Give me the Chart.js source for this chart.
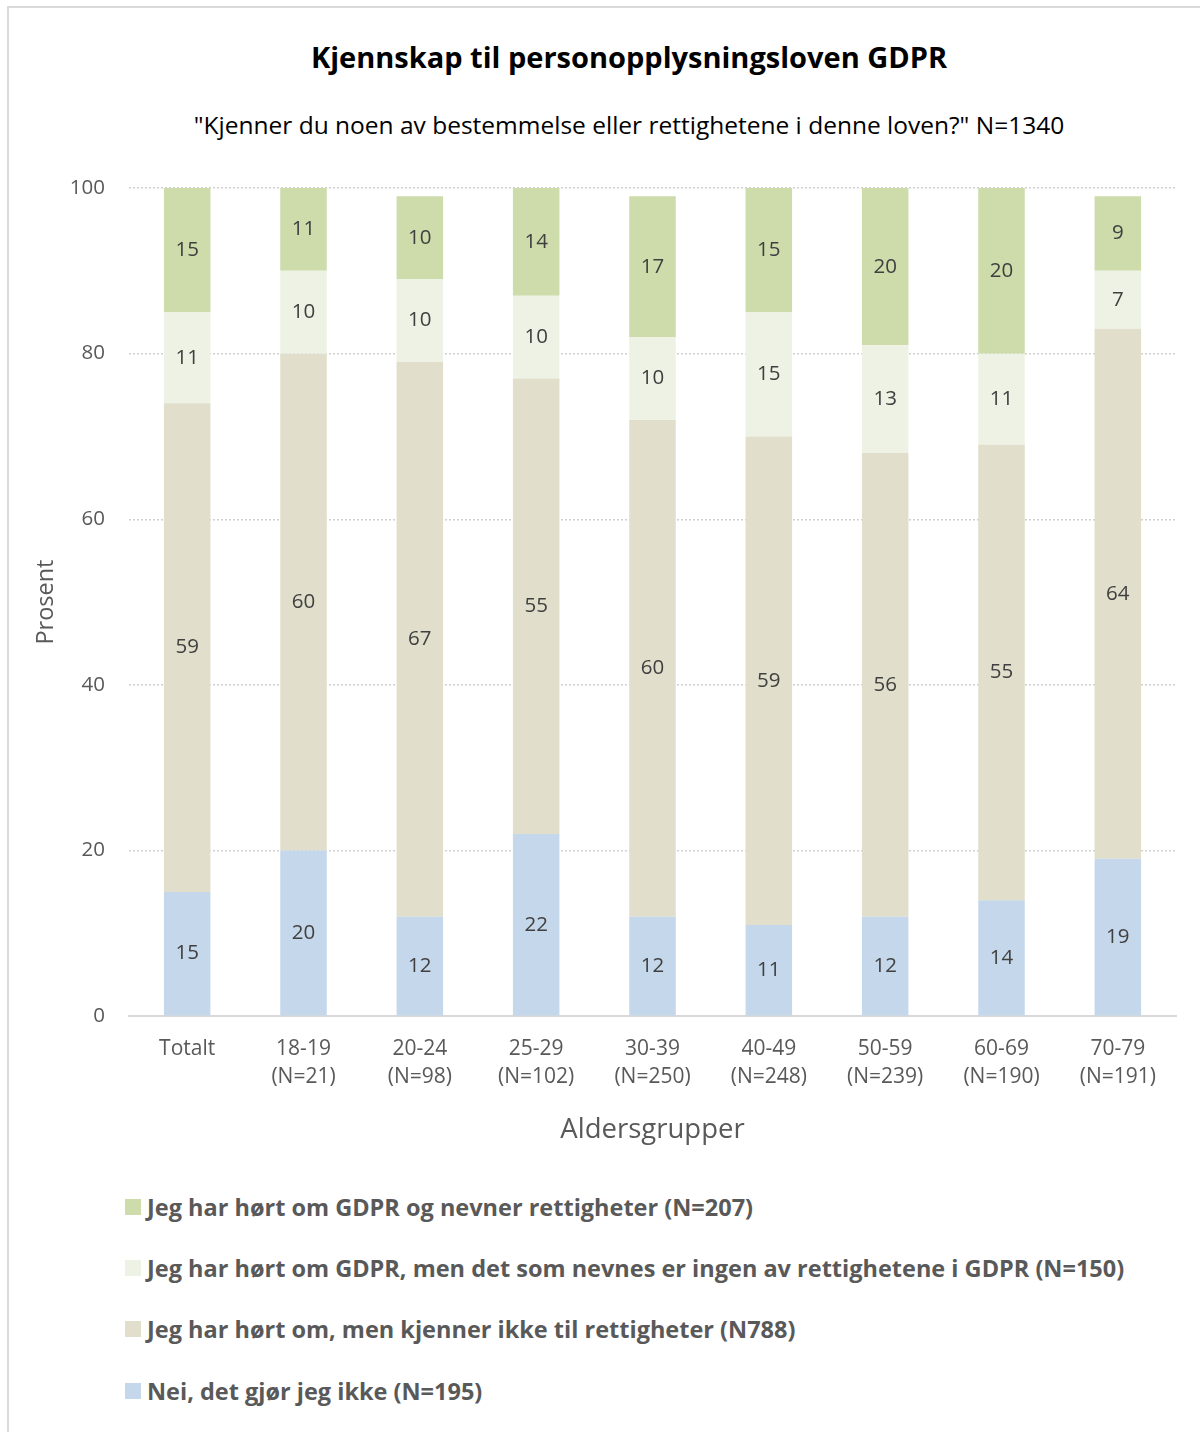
<!DOCTYPE html>
<html>
<head>
<meta charset="utf-8">
<script src="https://cdn.jsdelivr.net/npm/chart.js@4.4.1/dist/chart.umd.min.js"></script>
<style>
  body { margin: 0; background: #fff; }
  #page { position: relative; width: 1202px; height: 1434px; font-family: "Open Sans", sans-serif; }
  #frame { position: absolute; left: 7px; top: 6px; width: 1193px; height: 1426px;
           border: 2px solid #d9d9d9; border-right: none; border-bottom: none; box-sizing: border-box; }
  .heading { position: absolute; left: 0; width: 1258px; text-align: center; color: #000; white-space: nowrap; }
  #title { top: 38px; font-size: 29px; font-weight: bold; line-height: 38px; }
  #subtitle { top: 109px; font-size: 24.5px; line-height: 32px; }
  #chartBox { position: absolute; left: 0; top: 150px; width: 1202px; height: 1005px; }
  #legend { position: absolute; left: 125px; top: 1176px;
            font-weight: bold; font-size: 23.5px; color: #595959; }
  .item { height: 61.3px; display: flex; align-items: center; }
  .swatch { width: 16px; height: 16px; margin-right: 6px; }
</style>
</head>
<body>
<div id="page">
  <div id="frame"></div>
  <div id="title" class="heading">Kjennskap til personopplysningsloven GDPR</div>
  <div id="subtitle" class="heading">"Kjenner du noen av bestemmelse eller rettighetene i denne loven?" N=1340</div>
  <div id="chartBox"><canvas id="canvas" width="1202" height="1005"></canvas></div>
  <div id="legend"></div>
</div>
<script>
// Categories on the x axis (multi-line labels)
var groups = [
  ["Totalt"],
  ["18-19", "(N=21)"],
  ["20-24", "(N=98)"],
  ["25-29", "(N=102)"],
  ["30-39", "(N=250)"],
  ["40-49", "(N=248)"],
  ["50-59", "(N=239)"],
  ["60-69", "(N=190)"],
  ["70-79", "(N=191)"]
];

// Series, bottom to top of the stack
var neiValues      = [15, 20, 12, 22, 12, 11, 12, 14, 19];
var kjennerIkke    = [59, 60, 67, 55, 60, 59, 56, 55, 64];
var ingenRettighet = [11, 10, 10, 10, 10, 15, 13, 11, 7];
var nevnerRett     = [15, 11, 10, 14, 17, 15, 20, 20, 9];

var seriesNames = [
  "Nei, det gjør jeg ikke (N=195)",
  "Jeg har hørt om, men kjenner ikke til rettigheter (N788)",
  "Jeg har hørt om GDPR, men det som nevnes er ingen av rettighetene i GDPR (N=150)",
  "Jeg har hørt om GDPR og nevner rettigheter (N=207)"
];
var seriesColors = ["#c5d7ea", "#e1dfcb", "#eef2e4", "#cddcaa"];

var yTicks = [0, 20, 40, 60, 80, 100];

var fontFamily = "'Open Sans', sans-serif";

// Plugin to write the value in the middle of each bar segment
var segmentLabels = {
  id: "segmentLabels",
  afterDatasetsDraw: function (chart) {
    var ctx = chart.ctx;
    var area = chart.chartArea;
    ctx.save();
    ctx.font = "20.5px " + fontFamily;
    ctx.fillStyle = "#404040";
    ctx.textAlign = "center";
    ctx.textBaseline = "middle";
    chart.data.datasets.forEach(function (ds, i) {
      var meta = chart.getDatasetMeta(i);
      meta.data.forEach(function (bar, j) {
        var top = Math.max(bar.y, area.top);
        var bottom = Math.min(bar.base, area.bottom);
        ctx.fillText(ds.data[j], bar.x, (top + bottom) / 2);
      });
    });
    ctx.restore();
  }
};

var allValues = [neiValues, kjennerIkke, ingenRettighet, nevnerRett];
var datasets = allValues.map(function (vals, i) {
  return {
    label: seriesNames[i],
    data: vals,
    backgroundColor: seriesColors[i],
    borderWidth: 0,
    barPercentage: 0.4,
    categoryPercentage: 1
  };
});

var ctx = document.getElementById("canvas").getContext("2d");
var chart = new Chart(ctx, {
  type: "bar",
  data: { labels: groups, datasets: datasets },
  plugins: [segmentLabels],
  options: {
    responsive: false,
    animation: false,
    layout: { padding: { left: 32, right: 26, top: 38, bottom: 8 } },
    plugins: {
      legend: { display: false },
      tooltip: { enabled: false }
    },
    scales: {
      x: {
        stacked: true,
        grid: { display: false },
        border: { display: true, color: "#d9d9d9", width: 2 },
        ticks: {
          color: "#595959",
          font: { family: fontFamily, size: 21, lineHeight: 1.33 },
          padding: 11,
          maxRotation: 0
        },
        title: {
          display: true,
          text: "Aldersgrupper",
          color: "#595959",
          font: { family: fontFamily, size: 27.5 },
          padding: { top: 12, bottom: 0 }
        }
      },
      y: {
        stacked: true,
        min: 0,
        max: 100,
        afterBuildTicks: function (scale) {
          scale.ticks = yTicks.map(function (v) { return { value: v }; });
        },
        afterFit: function (scale) {
          scale.width = 97;
        },
        grid: { color: "#d0d0d0", lineWidth: 1.5, drawTicks: false },
        border: { display: false, dash: [2, 2] },
        ticks: {
          color: "#595959",
          font: { family: fontFamily, size: 20.5 },
          padding: 24
        },
        title: {
          display: true,
          text: "Prosent",
          color: "#595959",
          font: { family: fontFamily, size: 23.5 },
          padding: { top: 0, bottom: 10 }
        }
      }
    }
  }
});

// Legend written as HTML, top of the stack first
var legend = document.getElementById("legend");
for (var i = seriesNames.length - 1; i >= 0; i--) {
  var item = document.createElement("div");
  item.className = "item";
  var sw = document.createElement("span");
  sw.className = "swatch";
  sw.style.background = seriesColors[i];
  var txt = document.createElement("span");
  txt.textContent = seriesNames[i];
  item.appendChild(sw);
  item.appendChild(txt);
  legend.appendChild(item);
}
</script>
</body>
</html>
